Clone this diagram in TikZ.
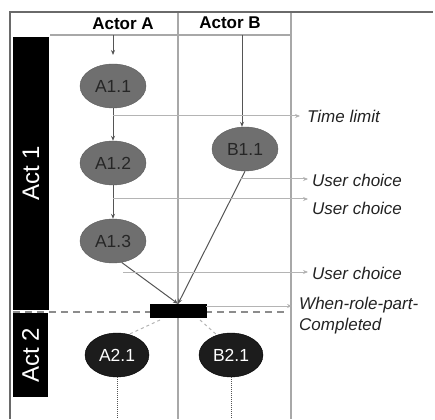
\documentclass[tikz,border=0pt]{standalone}
\usepackage{fontspec}
\setmainfont{Liberation Sans}
\usetikzlibrary{arrows.meta,shapes.geometric}

\definecolor{laneGray}{HTML}{A8A8A8}
\definecolor{frameGray}{HTML}{6A6A6A}
\definecolor{nodeGray}{HTML}{6F6F6F}
\definecolor{nodeEdge}{HTML}{5A5A5A}
\definecolor{nodeText}{HTML}{262626}
\definecolor{nodeDark}{HTML}{1C1C1C}
\definecolor{flowGray}{HTML}{555555}
\definecolor{eventGray}{HTML}{B4B4B4}
\definecolor{labelText}{HTML}{222222}
\definecolor{boundGray}{HTML}{8C8C8C}

\begin{document}
\begin{tikzpicture}[x=1pt,y=-1pt,
  lane/.style={draw=laneGray,line width=1.8pt},
  frame/.style={draw=frameGray,line width=1.2pt},
  activity/.style={ellipse,minimum width=66pt,minimum height=44pt,inner sep=0pt,
    font=\fontsize{17.5}{17.5}\selectfont},
  actA/.style={activity,fill=nodeGray,draw=nodeEdge,text=nodeText},
  actB/.style={activity,minimum width=64pt,fill=nodeDark,draw=black,text=white},
  flow/.style={draw=flowGray,line width=1pt,-{Stealth[length=5pt,width=4pt]}},
  event/.style={draw=eventGray,line width=1pt,-{Stealth[length=5pt,width=4pt,fill=flowGray]}},
  evlabel/.style={anchor=west,inner sep=0pt,text=labelText,
    font=\fontsize{17}{21}\selectfont\itshape},
  header/.style={inner sep=0pt,font=\fontsize{17}{17}\selectfont\bfseries},
  actbar/.style={fill=black,draw=none,inner sep=0pt},
  actlabel/.style={rotate=90,inner sep=0pt,text=white,font=\fontsize{24}{24}\selectfont},
  boundary/.style={draw=boundGray,line width=1.3pt,dash pattern=on 7pt off 5pt},
  split/.style={draw=eventGray,line width=1pt,dashed},
  follow/.style={draw=flowGray,line width=1pt,densely dotted}
]
\useasboundingbox (0,0) rectangle (435,419);

% act bars on the left
\node[actbar,minimum width=36pt,minimum height=273pt] (act1bar) at (31,173.5) {};
\node[actbar,minimum width=35pt,minimum height=84pt] (act2bar) at (30.5,355) {};
\node[actlabel] (act1) at (act1bar) {Act 1};
\node[actlabel] (act2) at (act2bar) {Act 2};

% swimlanes and frame
\draw[lane] (178,12) -- (178,419);
\draw[lane] (291,12) -- (291,419);
\draw[lane,line width=1.4pt] (50,35) -- (291,35);
\draw[frame] (10,419) -- (10,12) -- (433,12);

% lane headers
\node[header] (hA) at (123,24) {Actor A};
\node[header] (hB) at (230,23) {Actor B};

% activities
\node[actA] (A11) at (113,86) {A1.1};
\node[actA] (A12) at (113,163) {A1.2};
\node[actA] (A13) at (113,241) {A1.3};
\node[actA] (B11) at (245,149) {B1.1};
\node[actB] (A21) at (117,355) {A2.1};
\node[actB] (B21) at (231,355) {B2.1};

% act boundary
\coordinate (actL) at (13,312);
\coordinate (actR) at (287,312);
\draw[boundary] (actL) -- (actR);

% synchronisation bar
\node[fill=black,minimum width=57pt,minimum height=14pt,inner sep=0pt] (sync) at (178,311) {};

% control flow
\coordinate (startA) at (113,35);
\coordinate (startAend) at (113,55);
\coordinate (startB) at (242,35);
\draw[flow] (startA) -- (startAend);
\draw[flow] (startB) -- (startB |- B11.north);
\draw[flow] (A11) -- (A12);
\draw[flow] (A12) -- (A13);
\draw[flow] (A13.292) -- (sync.north);
\draw[flow] (B11.south) -- (sync.north);

% events leading out of the lanes
\coordinate (tlS) at (113,116);  \coordinate (tlE) at (300,116);
\coordinate (u1S) at (241,179);  \coordinate (u1E) at (308,179);
\coordinate (u2S) at (113,199);  \coordinate (u2E) at (308,199);
\coordinate (u3S) at (123,272);  \coordinate (u3E) at (308,272);
\coordinate (wrS) at (206,306);  \coordinate (wrE) at (292,306);
\draw[event] (tlS) -- (tlE);
\draw[event] (u1S) -- (u1E);
\draw[event] (u2S) -- (u2E);
\draw[event] (u3S) -- (u3E);
\draw[event] (wrS) -- (wrE);

\node[evlabel] (tl) at (307,116) {Time limit};
\node[evlabel] (u1) at (312,180) {User choice};
\node[evlabel] (u2) at (312,208) {User choice};
\node[evlabel] (u3) at (312,273) {User choice};
\node[evlabel,anchor=north west,align=left] (wr) at (299,297) {When-role-part-\\Completed};

% split into act 2
\coordinate (spA) at (160,320);
\coordinate (spB) at (200,320);
\draw[split] (spA) -- (A21.60);
\draw[split] (spB) -- (B21.125);

% continuation below act 2
\draw[follow] (A21.south) -- (A21.south |- 0,419);
\draw[follow] (B21.south) -- (B21.south |- 0,419);
\end{tikzpicture}
\end{document}
